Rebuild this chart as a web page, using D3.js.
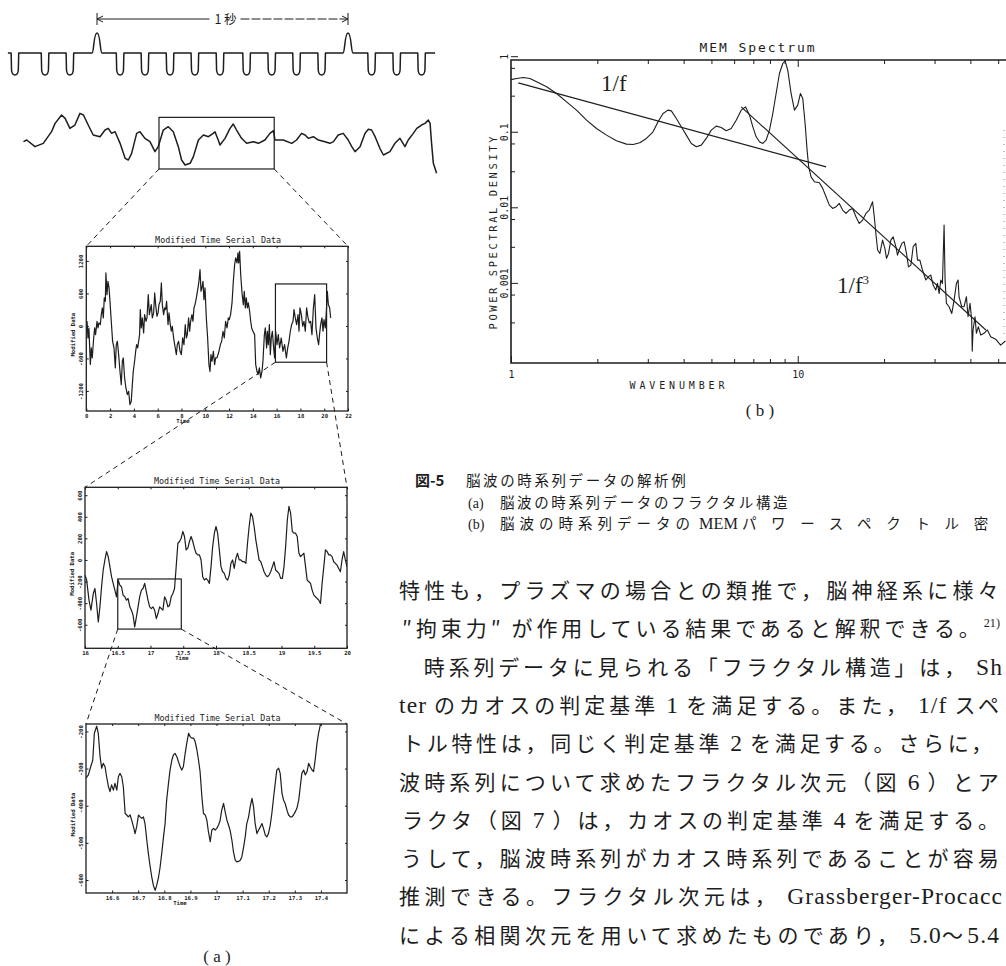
<!DOCTYPE html>
<html>
<head>
<meta charset="utf-8">
<script src="https://cdn.jsdelivr.net/npm/d3@7"></script>
<style>
  body { margin: 0; background: #fff; }
  svg { display: block; }
  text, tspan { white-space: pre; }
</style>
</head>
<body>
<div id="fig"></div>
<script>
// ---- data ----

// 10 Hz timing marks (ms) and the two 1-second marks
const timingDips = [-327, -207, -108, 92, 191, 291, 390, 490, 596, 696, 795, 895, 1094, 1194, 1293];
const secondMarks = [0, 1000];

// raw EEG trace: [time ms, amplitude]
const eegTrace = [[-293,10],[-280,15],[-247,-5],[-214,5],[-181,40],[-167,65],[-141,90],[-127,80],[-108,50],[-88,60],[-68,95],[-54,90],[-35,60],[-15,30],[12,25],[32,45],[45,50],[58,35],[72,40],[92,5],[112,-40],[125,-45],[138,-25],[158,35],[171,40],[191,20],[211,10],[231,-20],[244,-5],[264,45],[284,55],[304,40],[324,-5],[337,-45],[351,-60],[371,-55],[384,-35],[404,15],[424,30],[444,25],[463,35],[470,40],[483,15],[490,0],[510,20],[530,50],[543,63],[556,45],[576,20],[596,5],[623,10],[643,5],[669,15],[689,35],[703,43],[709,15],[742,15],[776,5],[795,15],[815,35],[829,30],[842,20],[862,25],[882,15],[908,10],[928,5],[942,10],[961,30],[981,35],[1001,15],[1015,-5],[1028,-20],[1048,-5],[1068,35],[1081,47],[1094,45],[1108,25],[1127,-10],[1141,-30],[1167,-20],[1187,5],[1207,20],[1227,-5],[1240,15],[1260,35],[1274,50],[1293,60],[1307,65],[1320,75],[1327,65],[1333,5],[1340,-55],[1353,-85]];
const eegBox = [247, 706, -72, 83]; // t0, t1, v0, v1

// Modified Time Serial Data, level 1: [time, value]
const serial1 = [[0.06,90],[0.14,-220],[0.22,-40],[0.34,-710],[0.42,-406],[0.50,-591],[0.62,-222],[0.70,-37],[0.78,-160],[0.90,86],[0.98,-37],[1.06,55],[1.18,25],[1.26,209],[1.35,332],[1.43,148],[1.51,517],[1.60,455],[1.65,978],[1.74,578],[1.82,825],[1.91,702],[1.99,455],[2.10,86],[2.21,-283],[2.33,-406],[2.44,-775],[2.52,-345],[2.61,-283],[2.72,-529],[2.83,-837],[2.94,-1083],[3.03,-652],[3.11,-591],[3.22,-960],[3.33,-1145],[3.45,-1268],[3.56,-1206],[3.67,-1452],[3.78,-1391],[3.87,-1083],[3.95,-837],[4.06,-652],[4.15,-468],[4.23,-345],[4.32,-406],[4.40,-283],[4.48,-160],[4.54,302],[4.62,-37],[4.71,148],[4.82,-129],[4.90,209],[5.02,86],[5.10,148],[5.21,578],[5.30,209],[5.38,302],[5.46,394],[5.55,148],[5.66,240],[5.75,609],[5.83,394],[5.94,178],[6.03,240],[6.11,394],[6.22,455],[6.31,794],[6.39,394],[6.50,209],[6.59,332],[6.67,302],[6.75,455],[6.87,25],[6.95,240],[7.06,25],[7.15,-98],[7.23,-6],[7.34,-222],[7.43,-345],[7.57,-529],[7.65,-345],[7.76,-283],[7.88,-468],[7.99,-529],[8.10,-222],[8.21,-345],[8.32,25],[8.41,-222],[8.49,-160],[8.60,148],[8.69,-98],[8.77,86],[8.88,209],[8.97,86],[9.05,332],[9.14,394],[9.25,517],[9.39,702],[9.47,825],[9.56,1040],[9.64,640],[9.72,702],[9.81,825],[9.89,486],[9.98,702],[10.09,148],[10.20,-222],[10.31,-714],[10.40,-837],[10.48,-529],[10.57,-652],[10.68,-468],[10.79,-714],[10.87,-591],[10.99,-591],[11.07,-529],[11.15,-468],[11.27,-345],[11.38,-283],[11.49,-98],[11.60,-222],[11.71,86],[11.83,-37],[11.94,148],[12.02,117],[12.13,209],[12.25,425],[12.36,825],[12.47,1132],[12.56,1255],[12.67,1163],[12.75,1348],[12.81,1163],[12.89,1378],[12.98,948],[13.09,609],[13.20,394],[13.28,640],[13.37,332],[13.45,517],[13.54,332],[13.62,425],[13.73,271],[13.82,86],[13.90,-37],[14.01,-98],[14.15,-160],[14.24,-714],[14.35,-837],[14.43,-898],[14.55,-775],[14.66,-960],[14.77,-837],[14.85,-652],[14.97,-160],[15.05,-37],[15.16,-406],[15.22,-98],[15.30,-345],[15.39,25],[15.47,-529],[15.55,-222],[15.64,-98],[15.75,-406],[15.83,-591],[15.92,-98],[16.03,-345],[16.14,-160],[16.25,-406],[16.39,-222],[16.53,-468],[16.67,-345],[16.82,-591],[16.93,-406],[17.04,-283],[17.15,-98],[17.26,25],[17.38,86],[17.46,302],[17.57,148],[17.68,25],[17.80,209],[17.88,-98],[17.96,332],[18.08,209],[18.19,-6],[18.30,86],[18.41,-98],[18.52,332],[18.64,148],[18.75,55],[18.86,86],[18.97,-160],[19.09,332],[19.20,578],[19.31,-37],[19.42,-222],[19.53,-345],[19.62,-129],[19.70,25],[19.81,148],[19.90,-98],[19.98,117],[20.09,-37],[20.18,271],[20.26,640],[20.35,394],[20.46,332],[20.54,148]];
const box1 = [15.9, 20.2, -670, 775];

// level 2
const serial2 = [[16.000,-140],[16.025,-186],[16.061,-372],[16.091,-465],[16.127,-310],[16.152,-264],[16.177,-403],[16.203,-574],[16.228,-434],[16.253,-248],[16.278,-93],[16.304,0],[16.329,78],[16.354,31],[16.380,-62],[16.405,-155],[16.430,-217],[16.456,-279],[16.481,-341],[16.506,-186],[16.532,-233],[16.557,-248],[16.582,-326],[16.608,-341],[16.633,-372],[16.658,-357],[16.684,-434],[16.709,-465],[16.734,-512],[16.759,-620],[16.785,-527],[16.810,-434],[16.835,-341],[16.861,-279],[16.886,-264],[16.911,-217],[16.937,-295],[16.962,-372],[16.987,-434],[17.013,-450],[17.038,-434],[17.063,-465],[17.089,-543],[17.114,-496],[17.139,-434],[17.165,-450],[17.190,-465],[17.215,-341],[17.240,-372],[17.266,-434],[17.291,-419],[17.316,-341],[17.342,-310],[17.367,-264],[17.392,-62],[17.418,155],[17.443,171],[17.468,202],[17.494,264],[17.519,217],[17.544,93],[17.570,109],[17.595,171],[17.620,217],[17.646,171],[17.671,109],[17.696,62],[17.722,47],[17.747,47],[17.772,0],[17.797,-155],[17.823,-186],[17.848,-171],[17.873,-186],[17.899,-217],[17.924,-62],[17.949,124],[17.975,248],[18.000,310],[18.025,248],[18.051,93],[18.076,-62],[18.101,-109],[18.127,-124],[18.152,-171],[18.177,-186],[18.203,-140],[18.228,-31],[18.253,0],[18.278,-78],[18.304,16],[18.329,62],[18.354,0],[18.380,0],[18.405,-16],[18.430,-16],[18.456,-31],[18.481,155],[18.506,310],[18.532,434],[18.557,403],[18.582,310],[18.608,186],[18.633,93],[18.658,0],[18.684,-16],[18.709,-62],[18.734,-109],[18.759,-140],[18.785,-155],[18.810,-140],[18.835,-109],[18.861,-62],[18.886,-16],[18.911,-93],[18.937,-109],[18.962,-124],[18.987,-171],[19.013,-171],[19.038,-62],[19.063,124],[19.089,372],[19.114,496],[19.139,434],[19.165,264],[19.190,248],[19.215,248],[19.240,217],[19.266,62],[19.291,31],[19.316,47],[19.342,62],[19.367,-62],[19.392,-186],[19.418,-202],[19.443,-217],[19.468,-279],[19.494,-326],[19.519,-341],[19.544,-357],[19.570,-372],[19.595,-403],[19.620,-217],[19.646,-62],[19.671,93],[19.696,78],[19.722,47],[19.747,47],[19.772,31],[19.797,-16],[19.823,-31],[19.848,-47],[19.873,-78],[19.899,-109],[19.924,0],[19.949,78],[19.975,0],[20.000,-62]];
const box2 = [16.5, 17.47, -640, -176];

// level 3
const serial3 = [[16.500,-326],[16.509,-317],[16.518,-295],[16.526,-277],[16.532,-205],[16.541,-186],[16.547,-205],[16.554,-268],[16.560,-299],[16.566,-286],[16.573,-295],[16.579,-322],[16.586,-349],[16.592,-362],[16.598,-344],[16.605,-358],[16.611,-340],[16.618,-358],[16.624,-322],[16.630,-313],[16.637,-322],[16.643,-349],[16.650,-421],[16.656,-425],[16.662,-430],[16.669,-425],[16.675,-439],[16.682,-457],[16.688,-475],[16.694,-457],[16.701,-425],[16.707,-430],[16.714,-434],[16.720,-430],[16.726,-448],[16.733,-493],[16.739,-529],[16.746,-565],[16.752,-592],[16.758,-614],[16.765,-628],[16.771,-614],[16.778,-592],[16.784,-565],[16.790,-529],[16.797,-484],[16.803,-448],[16.809,-385],[16.816,-340],[16.822,-304],[16.829,-277],[16.835,-263],[16.841,-259],[16.848,-268],[16.854,-281],[16.861,-295],[16.867,-304],[16.873,-295],[16.880,-259],[16.886,-232],[16.893,-205],[16.899,-214],[16.905,-218],[16.912,-218],[16.918,-227],[16.925,-250],[16.931,-277],[16.937,-308],[16.944,-376],[16.950,-421],[16.957,-425],[16.963,-439],[16.969,-470],[16.976,-497],[16.982,-466],[16.989,-461],[16.995,-466],[17.001,-461],[17.008,-452],[17.014,-439],[17.020,-412],[17.027,-394],[17.033,-416],[17.040,-439],[17.046,-452],[17.052,-466],[17.059,-493],[17.065,-524],[17.072,-547],[17.078,-551],[17.084,-550],[17.091,-547],[17.097,-538],[17.104,-511],[17.110,-484],[17.116,-448],[17.123,-430],[17.129,-403],[17.136,-380],[17.142,-403],[17.148,-448],[17.155,-475],[17.161,-466],[17.168,-457],[17.174,-448],[17.180,-461],[17.187,-479],[17.193,-484],[17.199,-475],[17.206,-452],[17.212,-421],[17.219,-376],[17.225,-340],[17.231,-304],[17.238,-299],[17.244,-313],[17.251,-367],[17.257,-385],[17.263,-394],[17.270,-412],[17.276,-425],[17.283,-430],[17.289,-430],[17.295,-425],[17.302,-416],[17.308,-407],[17.315,-385],[17.321,-349],[17.327,-313],[17.334,-304],[17.340,-317],[17.347,-308],[17.353,-286],[17.359,-295],[17.366,-304],[17.372,-308],[17.378,-277],[17.385,-232],[17.391,-205],[17.398,-182],[17.405,-160]];

// MEM spectrum: [wavenumber, power spectral density]
const memSpectrum = [[1.0,0.49],[1.046,0.507],[1.104,0.522],[1.164,0.507],[1.228,0.4575],[1.331,0.393],[1.442,0.321],[1.562,0.249],[1.692,0.193],[1.834,0.1423],[1.987,0.1105],[2.153,0.0902],[2.332,0.0759],[2.527,0.0686],[2.666,0.0679],[2.812,0.0714],[2.966,0.0815],[3.129,0.0998],[3.257,0.1353],[3.390,0.1744],[3.528,0.193],[3.624,0.189],[3.772,0.1498],[3.926,0.1162],[4.087,0.0902],[4.254,0.070],[4.428,0.0632],[4.609,0.0665],[4.797,0.0815],[4.993,0.105],[5.197,0.1186],[5.41,0.1139],[5.63,0.1029],[5.861,0.1105],[6.10,0.1423],[6.35,0.193],[6.575,0.2137],[6.789,0.1658],[6.973,0.1162],[7.161,0.0857],[7.355,0.0736],[7.554,0.070],[7.758,0.0774],[7.968,0.105],[8.185,0.1744],[8.406,0.321],[8.634,0.590],[8.868,0.80],[9.035,0.868],[9.23,0.653],[9.48,0.321],[9.74,0.193],[10.0,0.2248],[10.22,0.321],[10.41,0.2754],[10.61,0.1286],[10.78,0.0571],[10.92,0.0344],[11.13,0.0253],[11.43,0.0218],[11.90,0.0211],[12.22,0.0178],[12.55,0.0138],[12.89,0.0107],[13.24,0.00966],[13.60,0.01016],[13.96,0.01125],[14.34,0.00918],[14.73,0.0083],[15.13,0.00918],[15.54,0.00966],[15.96,0.0075],[16.39,0.00612],[16.84,0.00677],[17.29,0.0083],[17.76,0.00918],[18.24,0.01183],[18.49,0.0075],[18.73,0.00451],[18.99,0.00272],[19.34,0.00245],[19.76,0.00368],[20.13,0.00286],[20.40,0.00211],[20.73,0.00245],[21.12,0.00368],[21.52,0.00407],[21.99,0.00301],[22.28,0.00233],[22.58,0.00272],[23.07,0.00333],[23.50,0.0035],[23.95,0.00245],[24.34,0.00163],[24.80,0.00172],[25.27,0.00301],[25.81,0.00333],[26.16,0.002],[26.66,0.002],[27.23,0.00148],[27.97,0.00109],[28.57,0.00121],[29.11,0.00127],[29.66,0.000935],[30.30,0.000803],[30.71,0.000984],[31.12,0.000726],[31.54,0.00109],[31.96,0.000984],[32.39,0.00582],[32.65,0.00109],[33.0,0.000535],[33.72,0.000483],[34.45,0.000394],[35.10,0.000592],[35.76,0.000984],[36.24,0.00109],[36.52,0.000656],[37.31,0.000483],[38.02,0.000483],[38.75,0.000656],[39.26,0.000356],[39.90,0.000535],[40.43,0.000322],[40.6,0.000125],[40.87,0.000238],[41.52,0.000356],[41.98,0.000215],[42.66,0.000263],[43.45,0.000204],[44.63,0.000215],[45.85,0.000238],[47.1,0.000194],[49.0,0.00018],[51.0,0.00015],[53.0,0.00017]];
const fitOneOverF = [[1.06,0.443],[12.56,0.0343]];
const fitOneOverF3 = [[6.35,0.2135],[45.3,0.000238]];

const memXMajor = [1, 10];
const memXMinor = [2, 3, 4, 5, 6, 7, 8, 9, 20, 30, 40, 50];
const memYMajor = [1, 0.1, 0.01, 0.001];
const memYMinor = [0.7, 0.3, 0.07, 0.03, 0.007, 0.003, 0.0007, 0.0003];
const memYLabels = ["1", "0.1", "0.01", "0.001"];

const captionLines = [
  ["図-5", "脳波の時系列データの解析例"],
  ["(a)", "脳波の時系列データのフラクタル構造"],
  ["(b)", "脳波の時系列データの\u00a0MEM\u00a0パワースペクトル密"]
];
const bodyLines = [
  "特性も，プラズマの場合との類推で，脳神経系に様々",
  "″拘束力″ が作用している結果であると解釈できる。",
  "　時系列データに見られる「フラクタル構造」は， Sh",
  "ter のカオスの判定基準 1 を満足する。また， 1/f スペ",
  "トル特性は，同じく判定基準 2 を満足する。さらに，",
  "波時系列について求めたフラクタル次元（図 6 ）とア",
  "ラクタ（図 7 ）は，カオスの判定基準 4 を満足する。",
  "うして，脳波時系列がカオス時系列であることが容易",
  "推測できる。フラクタル次元は， Grassberger-Procacc",
  "による相関次元を用いて求めたものであり， 5.0〜5.4"
];
const bodyNotes = { 1: "21)" };

// ---- drawing ----
const W = 1006, H = 966;
const ink = "#1d1d1d";
const mono = "'DejaVu Sans Mono', 'Liberation Mono', monospace";
const jp = "'Noto Sans CJK JP', 'Noto Sans', sans-serif";
const serif = "'Liberation Serif', 'DejaVu Serif', serif";

const svg = d3.select("#fig").append("svg")
    .attr("width", W)
    .attr("height", H)
    .attr("viewBox", `0 0 ${W} ${H}`);

svg.append("rect").attr("width", W).attr("height", H).attr("fill", "#fff");

const defs = svg.append("defs");

function dashed(x1, y1, x2, y2) {
    svg.append("line")
        .attr("x1", x1).attr("y1", y1).attr("x2", x2).attr("y2", y2)
        .attr("stroke", ink).attr("stroke-width", 1)
        .attr("stroke-dasharray", "5,4");
}

// timing marks + EEG strip
const tScale = d3.scaleLinear().domain([0, 1000]).range([97, 348]);
const ampScale = d3.scaleLinear().domain([-100, 100]).range([178.3, 111.7]);
const base = 53;

(function drawTiming() {
    const events = timingDips.map(t => ({ t, dip: true }))
        .concat(secondMarks.map(t => ({ t, dip: false })))
        .sort((a, b) => a.t - b.t);
    let d = `M${tScale(-355)},${base}`;
    events.forEach(e => {
        const cx = tScale(e.t);
        if (e.dip) {
            d += `L${cx - 3.8},${base}L${cx - 3.4},${base + 17}Q${cx - 3},${base + 22} ${cx},${base + 22}` +
                 `Q${cx + 3},${base + 22} ${cx + 3.4},${base + 17}L${cx + 3.8},${base}`;
        } else {
            d += `L${cx - 5},${base}C${cx - 3},${base} ${cx - 3.5},${base - 20} ${cx},${base - 20}` +
                 `C${cx + 3.5},${base - 20} ${cx + 3},${base} ${cx + 5},${base}`;
        }
    });
    d += `L${tScale(1347)},${base}`;
    svg.append("path").attr("d", d).attr("fill", "none")
        .attr("stroke", ink).attr("stroke-width", 1.5).attr("stroke-linejoin", "round");

    // 1 second bracket
    const a = tScale(secondMarks[0]), b = tScale(secondMarks[1]), ay = 19;
    const g = svg.append("g").attr("stroke", ink).attr("stroke-width", 1).attr("fill", "none");
    g.append("line").attr("x1", a).attr("x2", a).attr("y1", ay - 6).attr("y2", ay + 6);
    g.append("line").attr("x1", b).attr("x2", b).attr("y1", ay - 6).attr("y2", ay + 6);
    g.append("line").attr("x1", a).attr("x2", (a + b) / 2 - 13).attr("y1", ay).attr("y2", ay);
    g.append("line").attr("x1", (a + b) / 2 + 18).attr("x2", b).attr("y1", ay).attr("y2", ay)
        .attr("stroke-dasharray", "9,2");
    g.append("path").attr("d", `M${a + 6},${ay - 3}L${a},${ay}L${a + 6},${ay + 3}`);
    g.append("path").attr("d", `M${b - 6},${ay - 3}L${b},${ay}L${b - 6},${ay + 3}`);
    svg.append("text").attr("x", (a + b) / 2 + 3).attr("y", ay + 4.5)
        .attr("text-anchor", "middle").attr("font-family", jp).attr("font-size", 12.5)
        .attr("fill", ink).text("1\u00a0秒");

    svg.append("path").datum(eegTrace)
        .attr("d", d3.line().x(p => tScale(p[0])).y(p => ampScale(p[1])))
        .attr("fill", "none").attr("stroke", ink).attr("stroke-width", 1.5)
        .attr("stroke-linejoin", "round");

    svg.append("rect")
        .attr("x", tScale(eegBox[0])).attr("y", ampScale(eegBox[3]))
        .attr("width", tScale(eegBox[1]) - tScale(eegBox[0]))
        .attr("height", ampScale(eegBox[2]) - ampScale(eegBox[3]))
        .attr("fill", "none").attr("stroke", ink).attr("stroke-width", 1.2);
})();

function drawSerial(p) {
    const x = d3.scaleLinear().domain(p.xDomain).range([p.left, p.right]);
    const y = d3.scaleLinear().domain(p.yDomain).range([p.bottom, p.top]);
    const id = "clip-" + p.name;
    defs.append("clipPath").attr("id", id).append("rect")
        .attr("x", p.left).attr("y", p.top)
        .attr("width", p.right - p.left).attr("height", p.bottom - p.top);

    const g = svg.append("g");
    g.append("path").datum(p.data)
        .attr("clip-path", `url(#${id})`)
        .attr("d", d3.line().x(d => x(d[0])).y(d => y(d[1])))
        .attr("fill", "none").attr("stroke", ink).attr("stroke-width", 1.2)
        .attr("stroke-linejoin", "round");

    g.append("rect")
        .attr("x", p.left).attr("y", p.top)
        .attr("width", p.right - p.left).attr("height", p.bottom - p.top)
        .attr("fill", "none").attr("stroke", ink).attr("stroke-width", 1.3);

    const fmt = v => String(v);
    const xb = g.append("g").attr("transform", `translate(0,${p.bottom})`)
        .call(d3.axisBottom(x).tickValues(p.xTicks).tickSize(-2.5).tickPadding(3).tickFormat(fmt));
    const xt = g.append("g").attr("transform", `translate(0,${p.top})`)
        .call(d3.axisTop(x).tickValues(p.xTicks).tickSize(-2).tickFormat(""));
    const yl = g.append("g").attr("transform", `translate(${p.left},0)`)
        .call(d3.axisLeft(y).tickValues(p.yTicks).tickSize(-2.5).tickFormat(fmt));
    const yr = g.append("g").attr("transform", `translate(${p.right},0)`)
        .call(d3.axisRight(y).tickValues(p.yTicks).tickSize(-2).tickFormat(""));
    [xb, xt, yl, yr].forEach(a => {
        a.select(".domain").remove();
        a.selectAll("line").attr("stroke", ink);
        a.selectAll("text").attr("font-family", mono).attr("font-size", 5.6)
            .attr("font-weight", "bold").attr("fill", ink);
    });
    yl.selectAll("text")
        .attr("transform", "rotate(-90)")
        .attr("x", 0).attr("y", -3.2).attr("dy", 0)
        .attr("text-anchor", "middle");

    g.append("text").attr("x", (p.left + p.right) / 2 + 1).attr("y", p.top - 3)
        .attr("text-anchor", "middle").attr("font-family", mono).attr("font-size", 8.4)
        .attr("fill", ink).text("Modified Time Serial Data");
    g.append("text").attr("x", p.timeX).attr("y", p.bottom + 12)
        .attr("text-anchor", "middle").attr("font-family", mono).attr("font-size", 5.6)
        .attr("font-weight", "bold").attr("fill", ink).text("Time");
    g.append("text")
        .attr("transform", `translate(${p.left - 11},${(p.top + p.bottom) / 2 + 6}) rotate(-90)`)
        .attr("text-anchor", "middle").attr("font-family", mono).attr("font-size", 5.6)
        .attr("font-weight", "bold").attr("fill", ink).text("Modified Data");

    if (p.box) {
        g.append("rect")
            .attr("x", x(p.box[0])).attr("y", y(p.box[3]))
            .attr("width", x(p.box[1]) - x(p.box[0]))
            .attr("height", y(p.box[2]) - y(p.box[3]))
            .attr("fill", "none").attr("stroke", ink).attr("stroke-width", 1.2);
    }
    return { x, y, p };
}

const panel1 = drawSerial({
    name: "p1", data: serial1, box: box1,
    left: 86.3, right: 348, top: 246.3, bottom: 411,
    xDomain: [0, 22], yDomain: [-1570, 1470],
    xTicks: d3.range(0, 23, 2), yTicks: [-1200, -600, 0, 600, 1200], timeX: 183
});
const panel2 = drawSerial({
    name: "p2", data: serial2, box: box2,
    left: 85, right: 347, top: 487.3, bottom: 648.3,
    xDomain: [16, 20], yDomain: [-818, 673],
    xTicks: [16, 16.5, 17, 17.5, 18, 18.5, 19, 19.5, 20],
    yTicks: [-600, -400, -200, 0, 200, 400, 600], timeX: 182
});
const panel3 = drawSerial({
    name: "p3", data: serial3,
    left: 86, right: 347, top: 724, bottom: 893,
    xDomain: [16.5, 17.5], yDomain: [-635, -180],
    xTicks: [16.6, 16.7, 16.8, 16.9, 17, 17.1, 17.2, 17.3, 17.4],
    yTicks: [-600, -500, -400, -300, -200], timeX: 180
});

// zoom connectors
dashed(tScale(eegBox[0]), ampScale(eegBox[2]), panel1.p.left, panel1.p.top);
dashed(tScale(eegBox[1]), ampScale(eegBox[2]), panel1.p.right, panel1.p.top);
dashed(panel1.x(box1[0]), panel1.y(box1[2]), panel2.p.left, panel2.p.top);
dashed(panel1.x(box1[1]), panel1.y(box1[2]), panel2.p.right, panel2.p.top);
dashed(panel2.x(box2[0]), panel2.y(box2[2]), panel3.p.left, panel3.p.top);
dashed(panel2.x(box2[1]), panel2.y(box2[2]), panel3.p.right, panel3.p.top);

svg.append("text").attr("x", 217).attr("y", 962).attr("text-anchor", "middle")
    .attr("font-family", serif).attr("font-size", 17).attr("fill", ink).text("( a )");

// MEM spectrum
(function drawMem() {
    const L = 511, R = 1004, T = 60, B = 363;
    const x = d3.scaleLog().domain([1, 52.4]).range([L, R]);
    const y = d3.scaleLog().domain([8.7e-5, 0.89]).range([B, T]);
    defs.append("clipPath").attr("id", "clip-mem").append("rect")
        .attr("x", L).attr("y", T).attr("width", R - L + 4).attr("height", B - T);

    const line = d3.line().x(d => x(d[0])).y(d => y(d[1]));
    const g = svg.append("g");
    g.append("path").datum(memSpectrum).attr("d", line)
        .attr("clip-path", "url(#clip-mem)")
        .attr("fill", "none").attr("stroke", ink).attr("stroke-width", 1.1)
        .attr("stroke-linejoin", "round");
    [fitOneOverF, fitOneOverF3].forEach(f => {
        g.append("path").datum(f).attr("d", line)
            .attr("fill", "none").attr("stroke", ink).attr("stroke-width", 1.1);
    });

    // frame (right side runs off the page)
    g.append("path").attr("d", `M${W},${T}H${L}V${B}H${W}`)
        .attr("fill", "none").attr("stroke", ink).attr("stroke-width", 1.6);
    g.append("line").attr("x1", R).attr("x2", R).attr("y1", 130).attr("y2", 340)
        .attr("stroke", "#888").attr("stroke-width", 1).attr("stroke-dasharray", "1,6");

    const axes = [
        g.append("g").attr("transform", `translate(0,${B})`)
            .call(d3.axisBottom(x).tickValues(memXMinor).tickSize(-4).tickFormat("")),
        g.append("g").attr("transform", `translate(0,${T})`)
            .call(d3.axisTop(x).tickValues(memXMinor).tickSize(-4).tickFormat("")),
        g.append("g").attr("transform", `translate(0,${T})`)
            .call(d3.axisTop(x).tickValues([10]).tickSize(-7).tickFormat("")),
        g.append("g").attr("transform", `translate(${L},0)`)
            .call(d3.axisLeft(y).tickValues(memYMinor).tickSize(-4).tickFormat(""))
    ];
    const xMajor = g.append("g").attr("transform", `translate(0,${B})`)
        .call(d3.axisBottom(x).tickValues(memXMajor).tickSize(-7).tickPadding(8).tickFormat(d3.format("d")));
    const yMajor = g.append("g").attr("transform", `translate(${L},0)`)
        .call(d3.axisLeft(y).tickValues(memYMajor).tickSize(-7)
            .tickFormat((d, i) => memYLabels[i]));
    axes.concat([xMajor, yMajor]).forEach(a => {
        a.select(".domain").remove();
        a.selectAll("line").attr("stroke", ink).attr("stroke-width", 1);
        a.selectAll("text").attr("font-family", mono).attr("font-size", 10).attr("fill", ink);
    });
    yMajor.selectAll("text")
        .attr("transform", "rotate(-90)")
        .attr("x", 0).attr("y", -3).attr("dy", 0)
        .attr("text-anchor", "middle");

    svg.append("text").attr("x", 757).attr("y", 52).attr("text-anchor", "middle")
        .attr("font-family", mono).attr("font-size", 13).attr("textLength", 115)
        .attr("fill", ink).text("MEM Spectrum");
    svg.append("text").attr("x", 677).attr("y", 389).attr("text-anchor", "middle")
        .attr("font-family", mono).attr("font-size", 10).attr("textLength", 95)
        .attr("fill", ink).text("WAVENUMBER");
    svg.append("text")
        .attr("transform", `translate(497,233) rotate(-90)`)
        .attr("text-anchor", "middle").attr("font-family", mono).attr("font-size", 10.5)
        .attr("textLength", 193).attr("fill", ink).text("POWER SPECTRAL DENSITY");
    svg.append("text").attr("x", 760).attr("y", 416).attr("text-anchor", "middle")
        .attr("font-family", serif).attr("font-size", 17).attr("fill", ink).text("( b )");

    svg.append("text").attr("x", 601).attr("y", 91)
        .attr("font-family", serif).attr("font-size", 23).attr("fill", ink).text("1/f");
    const f3 = svg.append("text").attr("x", 837).attr("y", 293)
        .attr("font-family", serif).attr("font-size", 23).attr("fill", ink).text("1/f");
    f3.append("tspan").attr("dy", -9).attr("font-size", 13).text("3");
})();

// ---- caption and running text ----
// split a line into latin and kana/kanji runs; kana/kanji runs get letter spacing
function runsOf(s) {
    const out = [];
    for (const ch of s) {
        const latin = /[\x20-\x7E\u00a0]/.test(ch);
        if (out.length && out[out.length - 1].latin === latin) out[out.length - 1].s += ch;
        else out.push({ latin, s: ch });
    }
    return out;
}

// opts.fixed: letter spacing for the first opts.fixedRuns kana/kanji runs; the rest are fitted to `right`
function fittedLine(s, x0, yy, size, right, note, opts = {}) {
    const t = svg.append("text").attr("x", x0).attr("y", yy).attr("fill", ink);
    const runs = runsOf(s);
    let cjkIndex = 0;
    const spans = runs.map(r => {
        const sp = t.append("tspan")
            .attr("font-family", r.latin ? serif : jp)
            .attr("font-size", r.latin ? size * 1.12 : size)
            .text(r.s);
        if (r.latin) sp.attr("letter-spacing", opts.latinLs || 0);
        r.fixed = !r.latin && cjkIndex < (opts.fixedRuns || 0);
        if (!r.latin) cjkIndex++;
        if (r.fixed) sp.attr("letter-spacing", opts.fixed);
        return sp;
    });
    if (note) {
        t.append("tspan").attr("font-family", serif).attr("font-size", size * 0.58)
            .attr("dy", -size * 0.42).text(note);
    }
    const n = runs.filter(r => !r.latin && !r.fixed).reduce((k, r) => k + [...r.s].length, 0);
    const w = t.node().getComputedTextLength();
    const ls = Math.max(0, (right - x0 - w) / n);
    spans.forEach((sp, i) => { if (!runs[i].latin && !runs[i].fixed) sp.attr("letter-spacing", ls); });
    return t;
}

captionLines.forEach((c, i) => {
    const yy = 486 + i * 21.7;
    svg.append("text").attr("x", i === 0 ? 415 : 468).attr("y", yy)
        .attr("font-family", i === 0 ? jp : serif)
        .attr("font-weight", i === 0 ? "bold" : "normal")
        .attr("font-size", i === 0 ? 15 : 14).attr("fill", ink).text(c[0]);
    if (i === 2) {
        fittedLine(c[1], 500, yy, 14.5, 1003, null, { fixed: 5, fixedRuns: 1 });
    } else {
        svg.append("text").attr("x", i === 0 ? 466 : 500).attr("y", yy)
            .attr("font-family", jp).attr("font-size", 14.5).attr("letter-spacing", 2.6)
            .attr("fill", ink).text(c[1]);
    }
});

const bodyStarts = [399, 402, 399, 399, 402, 399, 402, 401, 399, 399];
const bodyEnds = [1003, 1000, 1003, 1003, 996, 1003, 1003, 1003, 1003, 1000];
bodyLines.forEach((s, i) => {
    fittedLine(s, bodyStarts[i], 598 + i * 38.3, 21, bodyEnds[i], bodyNotes[i], { latinLs: 1.1 });
});
</script>
</body>
</html>
